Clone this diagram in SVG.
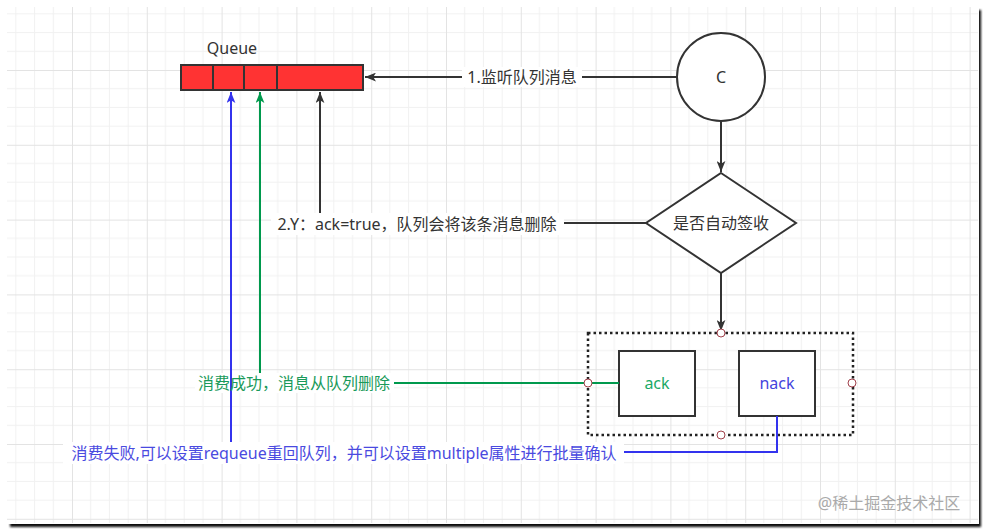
<svg xmlns="http://www.w3.org/2000/svg" width="986" height="532" viewBox="0 0 986 532">
<defs>
<pattern id="grid" patternUnits="userSpaceOnUse" x="-2.8" y="-4.8" width="74.8" height="74.8">
<path d="M18.7,0V74.8M37.4,0V74.8M56.1,0V74.8M0,18.7H74.8M0,37.4H74.8M0,56.1H74.8" stroke="#f1f1f1" stroke-width="1" fill="none"/>
<path d="M0.5,0V74.8M0,0.5H74.8" stroke="#e3e3e3" stroke-width="1" fill="none"/>
</pattern>
<filter id="blur" x="-5%" y="-5%" width="110%" height="110%"><feGaussianBlur stdDeviation="1.2"/></filter>
<marker id="ab" viewBox="0 0 10 8" refX="10" refY="4" markerWidth="11" markerHeight="9" markerUnits="userSpaceOnUse" orient="auto"><path d="M0,0L10,4L0,8L2.5,4z" fill="#333"/></marker>
<marker id="ag" viewBox="0 0 10 8" refX="10" refY="4" markerWidth="11" markerHeight="9" markerUnits="userSpaceOnUse" orient="auto"><path d="M0,0L10,4L0,8L2.5,4z" fill="#00994d"/></marker>
<marker id="au" viewBox="0 0 10 8" refX="10" refY="4" markerWidth="11" markerHeight="9" markerUnits="userSpaceOnUse" orient="auto"><path d="M0,0L10,4L0,8L2.5,4z" fill="#3333ee"/></marker>
<style>
text{font-family:"Noto Sans","Noto Sans CJK SC",sans-serif;font-size:16px;text-anchor:middle;dominant-baseline:central}
.dk{fill:#333}
.box{fill:#fff;stroke:#333;stroke-width:2}
.q{fill:#ff3333;stroke:#333;stroke-width:2}
.ln{fill:none;stroke-width:2}
.pt{fill:#fff;stroke:#a0404a;stroke-width:1}
</style>
</defs>
<rect width="986" height="532" fill="#fff"/>
<rect x="10" y="10" width="971" height="517" fill="#111" filter="url(#blur)"/>
<rect x="6" y="6" width="973" height="518" fill="#fff"/>
<rect x="7" y="7" width="971" height="516" fill="url(#grid)"/>

<g id="queue">
<text x="232" y="48" class="dk">Queue</text>
<rect x="181" y="65" width="182" height="25" class="q"/>
<path d="M213,65V90M244,65V90M277,65V90" stroke="#333" stroke-width="2"/>
</g>

<g id="consumer">
<circle cx="721" cy="77" r="44" class="box"/>
<text x="721" y="77" class="dk">C</text>
</g>

<g id="decision">
<path d="M721,173L796,223L721,273L646,223z" class="box"/>
<text x="721" y="223" class="dk">是否自动签收</text>
</g>

<g id="container">
<rect x="588" y="333" width="265" height="102" fill="none" stroke="#222" stroke-width="2.5" stroke-dasharray="2.5,3"/>
</g>

<g id="ack">
<rect x="619" y="351" width="76" height="65" class="box"/>
<text x="657" y="383" fill="#1aaa66">ack</text>
</g>

<g id="nack">
<rect x="739" y="351" width="76" height="65" class="box"/>
<text x="777" y="383" fill="#4444dd">nack</text>
</g>

<g id="connectors">
<path d="M677,77H365" class="ln" stroke="#333" marker-end="url(#ab)"/>
<path d="M721,121V172" class="ln" stroke="#333" marker-end="url(#ab)"/>
<path d="M721,273V331" class="ln" stroke="#333" marker-end="url(#ab)"/>
<path d="M646,223H320V92" class="ln" stroke="#333" marker-end="url(#ab)"/>
<path d="M619,383H260V92" class="ln" stroke="#00994d" marker-end="url(#ag)"/>
<path d="M777,416V452H231V92" class="ln" stroke="#3333ee" marker-end="url(#au)"/>
</g>

<g id="labels">
<rect x="462" y="67" width="120" height="20" fill="#fff"/>
<text x="522" y="77" class="dk">1.监听队列消息</text>
<rect x="271" y="213" width="293" height="22" fill="#fff"/>
<text x="417" y="224" class="dk">2.Y：ack=true，队列会将该条消息删除</text>
<rect x="195" y="373" width="199" height="20" fill="#fff"/>
<path d="M231,373V393" stroke="#3333ee" stroke-width="2"/>
<text x="294" y="383" fill="#1a9a5a">消费成功，消息从队列删除</text>
<rect x="63" y="442" width="561" height="22" fill="#fff"/>
<text x="344" y="453" fill="#4a4ae0">消费失败,可以设置requeue重回队列，并可以设置multiple属性进行批量确认</text>
</g>

<g id="points">
<circle cx="721" cy="333" r="4" class="pt"/>
<circle cx="588" cy="383" r="4" class="pt"/>
<circle cx="852" cy="383" r="4" class="pt"/>
<circle cx="721" cy="435" r="4" class="pt"/>
</g>

<text x="889" y="503" fill="#aaa" font-size="17">@稀土掘金技术社区</text>
</svg>
